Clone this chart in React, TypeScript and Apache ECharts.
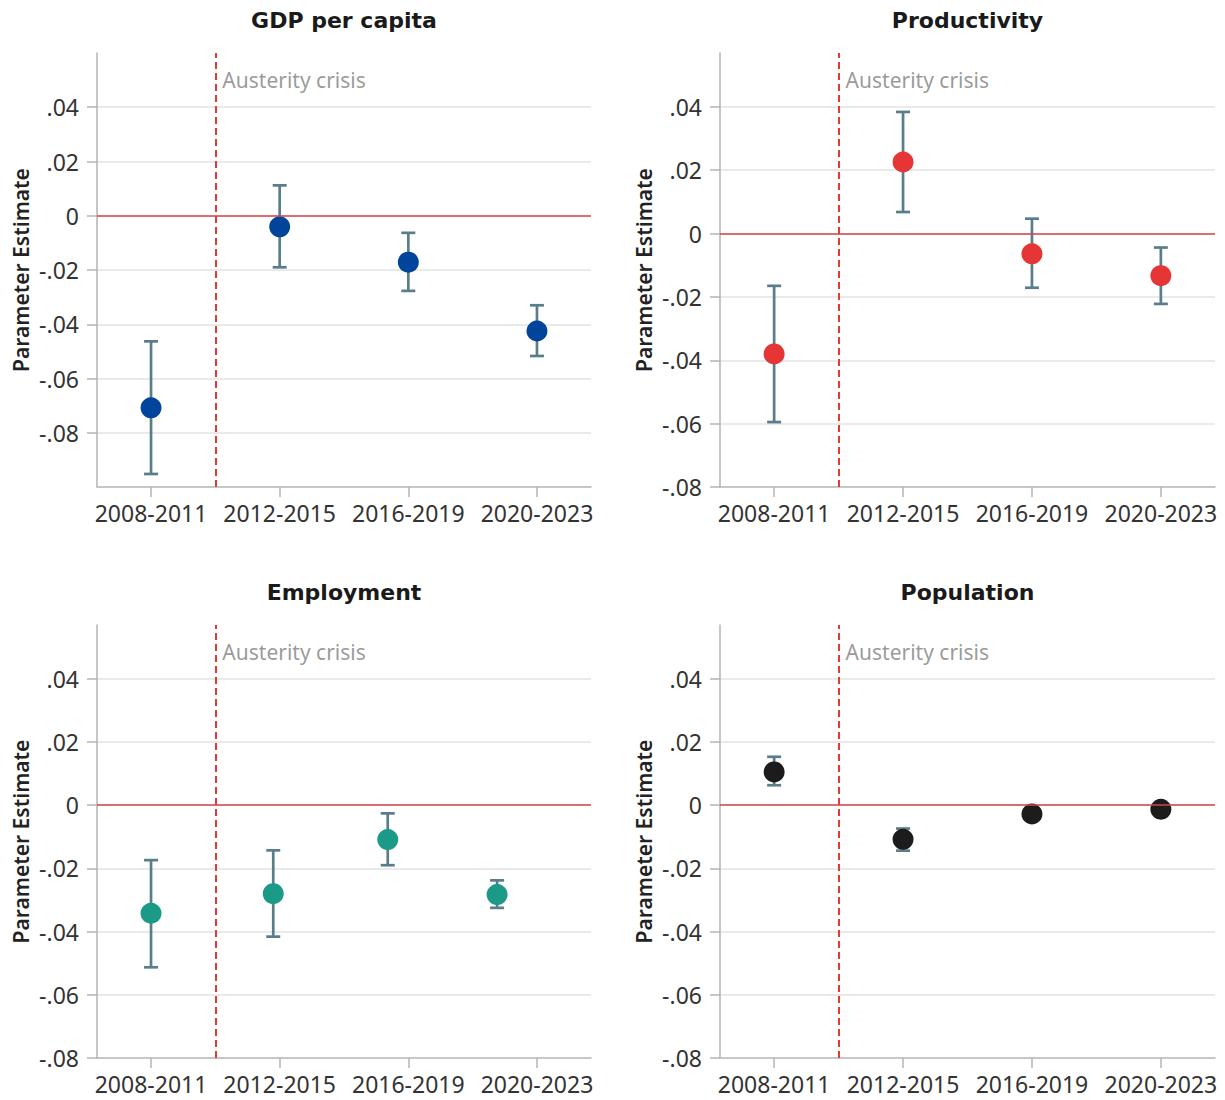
import { useEffect, useRef } from 'react';
import * as echarts from 'echarts';

// ---- Data ----
const periods = ['2008-2011', '2012-2015', '2016-2019', '2020-2023'];
const periodPos = [1, 2, 3, 4];
const panelTitles = ['GDP per capita', 'Productivity', 'Employment', 'Population'];

const gdpX = [1, 2, 3, 4];
const gdpEst = [-0.0708, -0.0041, -0.0171, -0.0425];
const gdpLow = [-0.0952, -0.019, -0.0277, -0.0517];
const gdpHigh = [-0.0463, 0.0112, -0.0063, -0.033];

const prodX = [1, 2, 3, 4];
const prodEst = [-0.038, 0.0226, -0.0064, -0.0133];
const prodLow = [-0.0595, 0.0068, -0.0171, -0.0222];
const prodHigh = [-0.0165, 0.0384, 0.0047, -0.0044];

const empX = [1, 1.95, 2.84, 3.69];
const empEst = [-0.0342, -0.028, -0.0109, -0.0283];
const empLow = [-0.0513, -0.0416, -0.019, -0.0325];
const empHigh = [-0.0174, -0.0143, -0.0026, -0.0238];

const popX = [1, 2, 3, 4];
const popEst = [0.0105, -0.0108, -0.0028, -0.0013];
const popLow = [0.0063, -0.0144, -0.0038, -0.0022];
const popHigh = [0.0153, -0.0074, -0.0018, -0.0004];

const yMins = [-0.1, -0.08, -0.08, -0.08];
const yMaxs = [0.06, 0.057, 0.057, 0.057];
const yInterval = 0.02;
const xMin = 0.58;
const xMax = 4.42;
const crisisX = 1.5;
const crisisLabel = 'Austerity crisis';
const yAxisName = 'Parameter Estimate';

// ---- Styling ----
const pointColors = ['#00449b', '#e53535', '#1b9a87', '#1c1c1c'];
const errColor = '#5a7d8a';
const axisColor = '#b5b5b5';
const gridColor = '#e3e3e3';
const zeroColor = '#d9434e';
const dashColor = '#e53935';
const FONT = 'Noto Sans';

const grids = [
  { left: 97, top: 53, width: 494, height: 434 },
  { left: 720, top: 53, width: 495, height: 434 },
  { left: 97, top: 625, width: 494, height: 433 },
  { left: 720, top: 625, width: 495, height: 433 },
];
const titleCenterY = [20, 20, 592, 592];

const panels = [
  { x: gdpX, est: gdpEst, low: gdpLow, high: gdpHigh },
  { x: prodX, est: prodEst, low: prodLow, high: prodHigh },
  { x: empX, est: empEst, low: empLow, high: empHigh },
  { x: popX, est: popEst, low: popLow, high: popHigh },
];

function fmtY(v: number) {
  const r = Math.round(v * 100) / 100;
  if (Math.abs(r) < 1e-9) return '0';
  const s = Math.abs(r).toFixed(2).replace(/^0/, '');
  return (r < 0 ? '-' : '') + s;
}

export default function App() {
  const ref = useRef<HTMLDivElement>(null);
  useEffect(() => {
    document.body.style.margin = '0';
    const chart = echarts.init(ref.current!, null, { renderer: 'svg' });

    const xAxes = grids.map((_, i) => ({
      type: 'value',
      gridIndex: i,
      min: xMin,
      max: xMax,
      axisLine: { show: true, onZero: false, lineStyle: { color: axisColor, width: 1.5 } },
      axisTick: { show: true, length: 10, customValues: periodPos, lineStyle: { color: axisColor, width: 1.5 } },
      axisLabel: {
        customValues: periodPos,
        margin: 14,
        fontFamily: FONT,
        fontSize: 23,
        color: '#333',
        formatter: (v: number) => periods[Math.round(v) - 1] ?? '',
      },
      splitLine: { show: false },
    }));

    const yAxes = grids.map((_, i) => ({
      type: 'value',
      gridIndex: i,
      min: yMins[i],
      max: yMaxs[i],
      interval: yInterval,
      axisLine: { show: true, lineStyle: { color: axisColor, width: 1.5 } },
      axisTick: { show: true, length: 10, lineStyle: { color: axisColor, width: 1.5 } },
      axisLabel: {
        margin: 18,
        fontFamily: FONT,
        fontSize: 23,
        color: '#333',
        formatter: fmtY,
        showMaxLabel: false,
        showMinLabel: i !== 0,
      },
      splitLine: { show: true, showMinLine: false, showMaxLine: false, lineStyle: { color: gridColor, width: 1.5 } },
      name: yAxisName,
      nameLocation: 'middle',
      nameGap: 66,
      nameTextStyle: { fontFamily: FONT, fontSize: 21, fontWeight: 600, color: '#222' },
    }));

    const series: any[] = [];
    panels.forEach((p, i) => {
      series.push({
        type: 'scatter',
        xAxisIndex: i,
        yAxisIndex: i,
        data: [[crisisX, yMaxs[i]]],
        symbolSize: 0,
        silent: true,
        z: 1,
        label: {
          show: true,
          position: 'right',
          distance: 7,
          offset: [0, 27],
          formatter: crisisLabel,
          fontFamily: FONT,
          fontSize: 21,
          color: '#808080',
        },
        markLine: {
          silent: true,
          symbol: ['none', 'none'],
          label: { show: false },
          animation: false,
          data: [
            { yAxis: 0, lineStyle: { color: zeroColor, width: 1.5, type: 'solid' } },
            { xAxis: crisisX, lineStyle: { color: dashColor, width: 2, type: [7, 4] } },
          ],
        },
      });
      series.push({
        type: 'custom',
        xAxisIndex: i,
        yAxisIndex: i,
        z: 3,
        silent: true,
        data: p.x.map((x, k) => [x, p.low[k], p.high[k]]),
        encode: { x: 0, y: [1, 2] },
        renderItem: (_params: any, api: any) => {
          const x = api.value(0);
          const pLo = api.coord([x, api.value(1)]);
          const pHi = api.coord([x, api.value(2)]);
          const hw = 7;
          const style = { stroke: errColor, lineWidth: 2.7 };
          return {
            type: 'group',
            children: [
              { type: 'line', shape: { x1: pLo[0], y1: pLo[1], x2: pHi[0], y2: pHi[1] }, style },
              { type: 'line', shape: { x1: pLo[0] - hw, y1: pLo[1], x2: pLo[0] + hw, y2: pLo[1] }, style },
              { type: 'line', shape: { x1: pHi[0] - hw, y1: pHi[1], x2: pHi[0] + hw, y2: pHi[1] }, style },
            ],
          };
        },
      });
      series.push({
        type: 'scatter',
        xAxisIndex: i,
        yAxisIndex: i,
        z: 4,
        symbol: 'circle',
        symbolSize: 21,
        itemStyle: { color: pointColors[i], opacity: 1 },
        data: p.x.map((x, k) => [x, p.est[k]]),
      });
    });

    chart.setOption({
      animation: false,
      backgroundColor: '#ffffff',
      graphic: panelTitles.map((t, i) => ({
        type: 'text',
        x: grids[i].left + grids[i].width / 2,
        y: titleCenterY[i],
        silent: true,
        style: {
          text: t,
          align: 'center',
          verticalAlign: 'middle',
          font: 'bold 22px "DejaVu Sans"',
          fill: '#1a1a1a',
        },
      })),
      grid: grids.map((g) => ({ ...g, containLabel: false })),
      xAxis: xAxes,
      yAxis: yAxes,
      series,
    });

    return () => chart.dispose();
  }, []);
  return <div ref={ref} style={{ width: 1225, height: 1100 }} />;
}
